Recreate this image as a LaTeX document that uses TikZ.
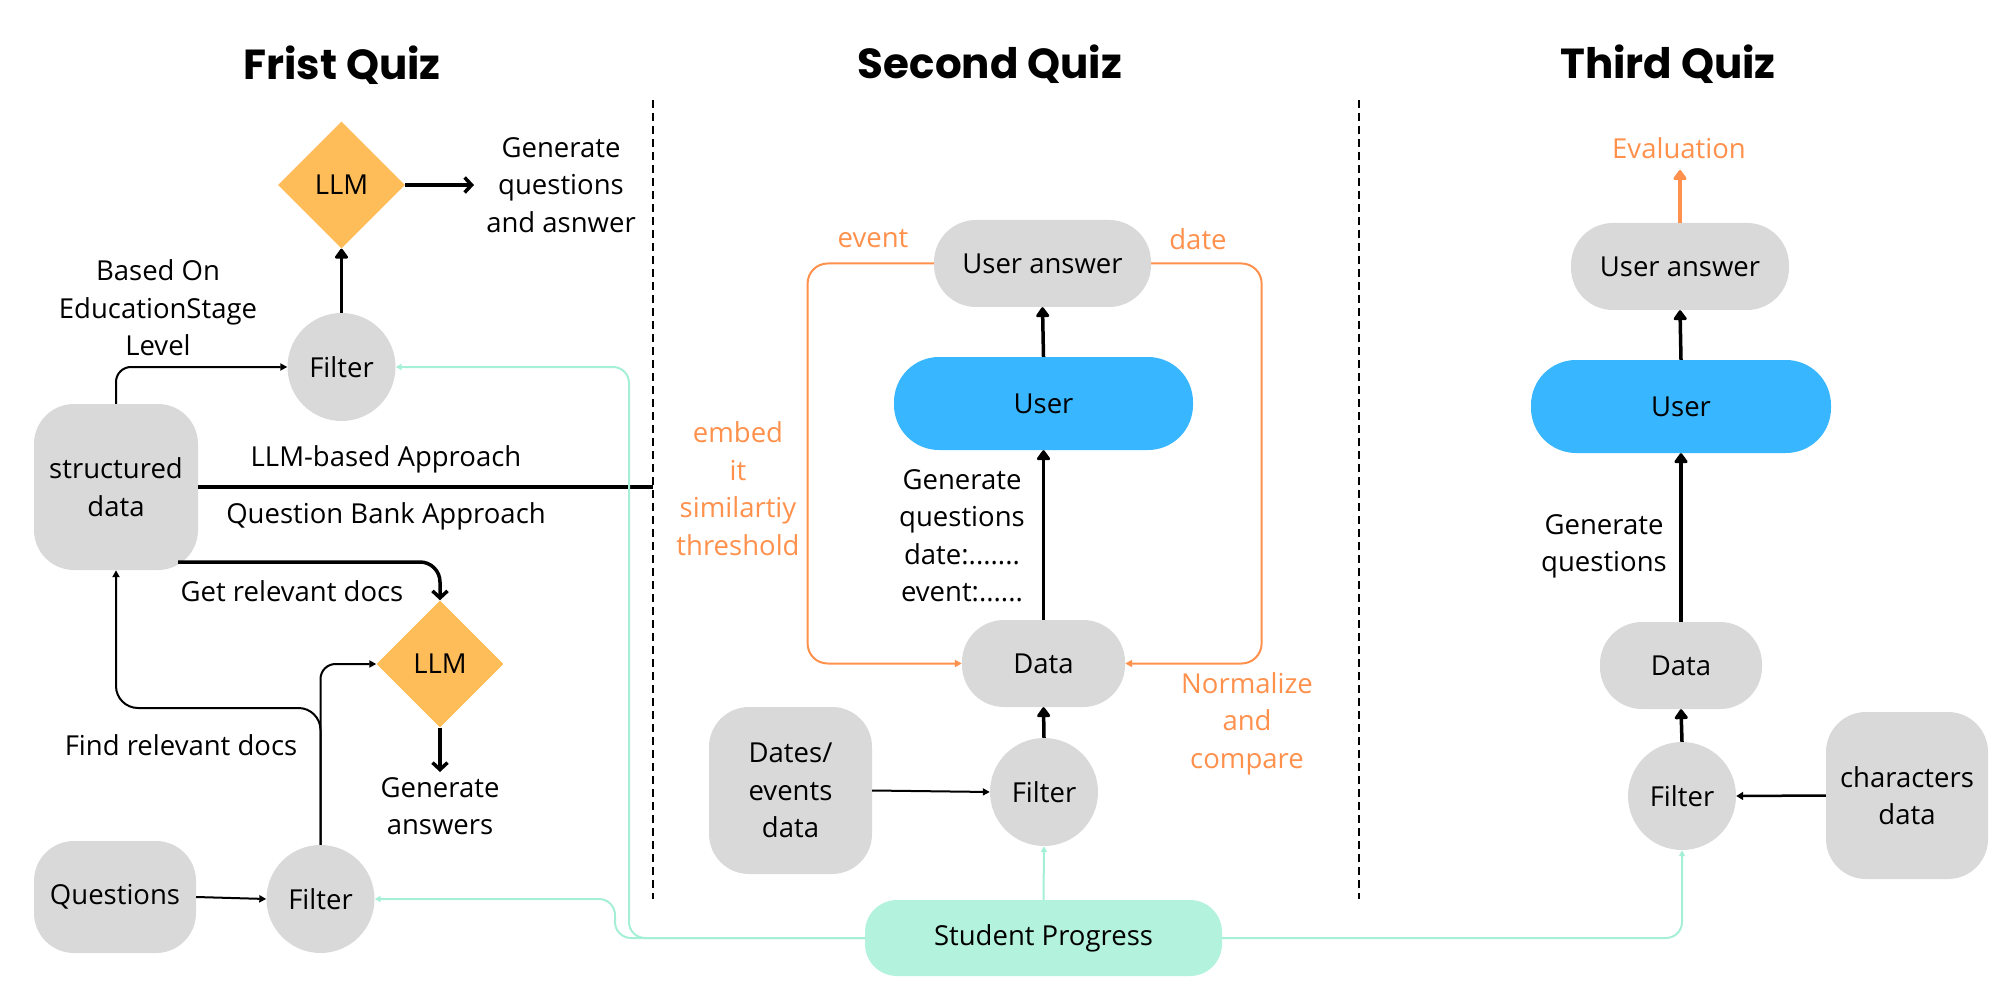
\documentclass[tikz,border=0pt]{standalone}
\usepackage{fontspec}
\setmainfont{Open Sans}
\newfontfamily\titlefont{Poppins}
\usetikzlibrary{shapes.geometric,arrows.meta}
\definecolor{cgray}{HTML}{D9D9D9}
\definecolor{cdia}{HTML}{FFBD59}
\definecolor{cblue}{HTML}{38B6FF}
\definecolor{cmint}{HTML}{B3F2DC}
\definecolor{cteal}{HTML}{A5EFD5}
\definecolor{corange}{HTML}{FF914D}
\begin{document}
\begin{tikzpicture}[x=1pt,y=-1pt,
  every node/.style={font=\fontsize{27.5}{37.5}\selectfont, align=center, inner sep=0pt},
  ttl/.style={font=\titlefont\bfseries\fontsize{42}{50}\selectfont},
  txt/.style={text=black},
  otxt/.style={text=corange},
  gbox/.style={fill=cgray, rounded corners=40pt},
  pill/.style={fill=cgray, rounded corners=42pt},
  bpill/.style={fill=cblue, rounded corners=45pt},
  circ/.style={circle, fill=cgray, minimum size=108pt},
  dia/.style={diamond, fill=cdia, minimum width=127pt, minimum height=127pt},
  thk/.style={line width=3.5pt, -{Triangle[length=11pt,width=15pt,round]}},
  barb/.style={line width=3.5pt, -{Straight Barb[length=7pt,width=15pt]}},
  thin/.style={line width=2pt, -{Triangle[length=7pt,width=7pt]}},
  tealline/.style={draw=cteal, line width=2pt, rounded corners=16pt, -{Triangle[length=6pt,width=6pt]}},
  orline/.style={draw=corange, line width=2pt, rounded corners=20pt, -{Triangle[length=7pt,width=7pt]}},
  sep/.style={line width=1.5pt, dash pattern=on 8pt off 5pt}
]
\useasboundingbox (0,0) rectangle (2000,1000);

% titles
\node[ttl] (t1) at (342,65) {Frist Quiz};
\node[ttl] (t2) at (990,64) {Second Quiz};
\node[ttl] (t3) at (1668,64) {Third Quiz};

% separators
\coordinate (s1a) at (653,100); \coordinate (s1b) at (653,899);
\coordinate (s2a) at (1359,100); \coordinate (s2b) at (1359,899);
\draw[sep] (s1a) -- (s1b);
\draw[sep] (s2a) -- (s2b);

% ---------- first quiz ----------
\node[dia] (llm1) at (341.5,185) {LLM};
\node[txt] (gq1) at (561,185) {Generate\\questions\\and asnwer};
\node[circ] (f1) at (341.5,367) {Filter};
\node[txt] (bo) at (158,308) {Based On\\EducationStage\\Level};
\node[gbox, minimum width=164pt, minimum height=166pt] (sd) at (116,487) {structured\\data};
\node[txt] (lba) at (386,459) {LLM-based Approach};
\node[txt] (qba) at (386,516) {Question Bank Approach};
\node[txt] (grd) at (292,591) {Get relevant docs};
\node[dia] (llm2) at (440,664) {LLM};
\node[txt] (ga) at (440,806) {Generate\\answers};
\node[txt] (frd) at (181,745) {Find relevant docs};
\node[circ] (f2) at (320.5,899) {Filter};
\node[gbox, minimum width=162pt, minimum height=112pt] (q) at (115,897) {Questions};

\coordinate (gqa) at (474,185);
\draw[barb] (llm1.east) -- (gqa);
\draw[thk] (f1.north) -- (llm1.south);
\draw[thin, rounded corners=15pt] (sd.north) -- (116,367) -- (f1.west);
\coordinate (apx) at (653,487);
\draw[line width=3.5pt] (sd.east |- apx) -- (apx);
\coordinate (g1) at (178,562);
\draw[barb, rounded corners=20pt] (g1) -- (440,562) -- (llm2.north);
\coordinate (gaa) at (440,772);
\draw[barb] (llm2.south) -- (gaa);
\draw[thin] (q.east) -- (f2.west);
\draw[thin, rounded corners=15pt] (f2.north) -- (320.5,664) -- (llm2.west);
\draw[thin, rounded corners=22pt] (f2.north) -- (320.5,708) -- (116,708) -- (sd.south);

% ---------- second quiz ----------
\node[pill, minimum width=217pt, minimum height=87pt] (ua2) at (1042.5,263.5) {User answer};
\node[bpill, minimum width=299pt, minimum height=93pt] (u2) at (1043.5,403.5) {User};
\node[pill, minimum width=163pt, minimum height=87pt] (d2) at (1043.5,663.5) {Data};
\node[circ] (fs2) at (1044,792) {Filter};
\node[gbox, minimum width=163pt, minimum height=167pt] (de) at (790.5,790.5) {Dates/\\events\\data};
\node[otxt] (ev) at (873,239) {event};
\node[otxt] (dt) at (1198,239) {date};
\node[otxt] (emb) at (738,488.5) {embed\\it\\similartiy\\threshold};
\node[txt] (gq2) at (962,535.5) {Generate\\questions\\date:.......\\event:......};
\node[otxt] (nac) at (1247,723.5) {Normalize\\and\\compare};

\draw[thk] (u2.north) -- (ua2.south);
\draw[thk] (d2.north) -- (u2.south);
\draw[thk] (fs2.north) -- (d2.south);
\draw[thin] (de.east) -- (fs2.west);
\draw[orline] (ua2.west) -- (807.6,263.5) -- (807.6,663.5) -- (d2.west);
\draw[orline] (ua2.east) -- (1261.6,263.5) -- (1261.6,663.5) -- (d2.east);

% ---------- third quiz ----------
\node[otxt] (eval) at (1679,148) {Evaluation};
\node[pill, minimum width=218pt, minimum height=87pt] (ua3) at (1680,266.5) {User answer};
\node[bpill, minimum width=300pt, minimum height=93pt] (u3) at (1681,406.5) {User};
\node[pill, minimum width=162pt, minimum height=87pt] (d3) at (1681,665.5) {Data};
\node[circ] (f3) at (1682,796) {Filter};
\node[gbox, minimum width=162pt, minimum height=167pt] (ch) at (1907,795.5) {characters\\data};
\node[txt] (gq3) at (1604,546.5) {Generate\\questions};

\coordinate (eva) at (1680,170);
\draw[draw=corange, line width=3.5pt, -{Triangle[length=11pt,width=15pt,round]}] (ua3.north) -- (eva);
\draw[thk] (u3.north) -- (ua3.south);
\draw[thk] (d3.north) -- (u3.south);
\draw[thk] (f3.north) -- (d3.south);
\draw[line width=2.5pt, -{Triangle[length=7pt,width=8pt]}] (ch.west) -- (f3.east);

% ---------- student progress ----------
\node[fill=cmint, rounded corners=32pt, minimum width=357pt, minimum height=76pt] (sp) at (1043.5,938) {Student Progress};
\draw[tealline] (sp.north) -- (fs2.south);
\draw[tealline] (sp.east) -- (1682,938) -- (f3.south);
\draw[tealline] (sp.west) -- (629,938) -- (629,367) -- (f1.east);
\draw[tealline] (sp.west) -- (615,938) -- (615,899) -- (f2.east);

\end{tikzpicture}
\end{document}
